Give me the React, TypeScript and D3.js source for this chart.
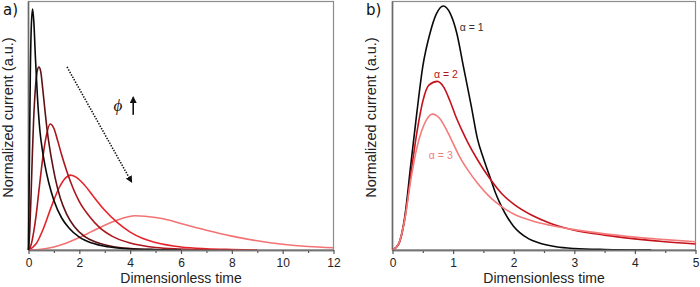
import * as d3 from "d3";
import { useEffect, useRef } from "react";

type Pt = [number, number];

const width = 700;
const height = 287;
const sans = "'Liberation Sans', Arial, sans-serif";

// (a) current transients, phi increasing from black to light red
const phiBlack: Pt[] = [
  [0, 0], [0.03, 0.3], [0.07, 0.7], [0.11, 0.9], [0.16, 0.972], [0.21, 0.92],
  [0.27, 0.78], [0.35, 0.62], [0.45, 0.48], [0.55, 0.4], [0.65, 0.34], [0.8, 0.27],
  [1.0, 0.2], [1.3, 0.13], [1.6, 0.088], [2.0, 0.052], [2.5, 0.028], [3.0, 0.015],
  [3.5, 0.008], [4.0, 0.004], [5.0, 0.001], [6.0, 0],
];
const phiDark: Pt[] = [
  [0, 0], [0.05, 0.08], [0.1, 0.22], [0.15, 0.38], [0.2, 0.52], [0.27, 0.65],
  [0.34, 0.72], [0.41, 0.738], [0.48, 0.72], [0.56, 0.65], [0.65, 0.56], [0.75, 0.47],
  [0.9, 0.37], [1.05, 0.29], [1.25, 0.21], [1.5, 0.145], [1.8, 0.095], [2.2, 0.055],
  [2.7, 0.03], [3.3, 0.014], [4.0, 0.006], [5.0, 0.002], [6.0, 0],
];
const phiMaroon: Pt[] = [
  [0, 0], [0.1, 0.02], [0.2, 0.07], [0.3, 0.14], [0.4, 0.23], [0.5, 0.32],
  [0.6, 0.4], [0.7, 0.46], [0.85, 0.508], [1.0, 0.49], [1.15, 0.44], [1.3, 0.385],
  [1.5, 0.32], [1.75, 0.25], [2.0, 0.195], [2.4, 0.135], [2.8, 0.09], [3.3, 0.055],
  [4.0, 0.028], [5.0, 0.01], [6.0, 0.004], [7.0, 0.001], [8.0, 0],
];
const phiRed: Pt[] = [
  [0, 0], [0.3, 0.025], [0.6, 0.09], [0.9, 0.175], [1.2, 0.25], [1.45, 0.29],
  [1.65, 0.302], [1.9, 0.292], [2.2, 0.262], [2.6, 0.21], [3.0, 0.16], [3.5, 0.11],
  [4.0, 0.072], [4.5, 0.046], [5.0, 0.03], [6.0, 0.012], [7.0, 0.005], [8.0, 0.002],
  [9.0, 0],
];
const phiLight: Pt[] = [
  [0, 0], [0.5, 0.003], [1, 0.012], [1.5, 0.028], [2, 0.05], [2.5, 0.075],
  [3, 0.1], [3.5, 0.121], [4.2, 0.138], [5, 0.131], [5.5, 0.121], [6, 0.107],
  [7, 0.08], [8, 0.056], [9, 0.037], [10, 0.023], [11, 0.014], [12, 0.009],
];

// (b) transients for alpha = 1, 2, 3
const alpha1: Pt[] = [
  [0, 0], [0.1, 0.025], [0.2, 0.13], [0.3, 0.34], [0.4, 0.55], [0.5, 0.74],
  [0.62, 0.875], [0.72, 0.95], [0.84, 0.984], [0.95, 0.955], [1.06, 0.875],
  [1.17, 0.74], [1.3, 0.58], [1.4, 0.45], [1.5, 0.37], [1.6, 0.3], [1.7, 0.23],
  [1.8, 0.175], [1.9, 0.13], [2.0, 0.095], [2.1, 0.07], [2.25, 0.045], [2.4, 0.03],
  [2.7, 0.013], [3.0, 0.006], [3.5, 0.002], [4.27, 0],
];
const alpha2: Pt[] = [
  [0, 0], [0.1, 0.022], [0.2, 0.12], [0.3, 0.3], [0.4, 0.47], [0.5, 0.6],
  [0.6, 0.665], [0.74, 0.68], [0.85, 0.655], [0.95, 0.6], [1.05, 0.535], [1.15, 0.48],
  [1.25, 0.43], [1.4, 0.365], [1.6, 0.29], [1.8, 0.228], [2.0, 0.185], [2.3, 0.14],
  [2.6, 0.108], [3.0, 0.08], [3.5, 0.06], [4.0, 0.045], [4.5, 0.033], [5.0, 0.024],
];
const alpha3: Pt[] = [
  [0, 0], [0.1, 0.025], [0.2, 0.12], [0.3, 0.28], [0.4, 0.41], [0.48, 0.48],
  [0.56, 0.525], [0.66, 0.548], [0.78, 0.53], [0.9, 0.48], [1.0, 0.43], [1.1, 0.38],
  [1.25, 0.32], [1.4, 0.27], [1.6, 0.215], [1.8, 0.175], [2.0, 0.145], [2.3, 0.118],
  [2.6, 0.1], [3.0, 0.082], [3.5, 0.065], [4.0, 0.052], [4.5, 0.042], [5.0, 0.033],
];

const majorA = [0, 2, 4, 6, 8, 10, 12];
const minorA = [1, 3, 5, 7, 9, 11];
const majorB = [0, 1, 2, 3, 4, 5];
const minorB = [0.5, 1.5, 2.5, 3.5, 4.5];

const curvesA = [
  { data: phiLight, color: "#f27373" },
  { data: phiRed, color: "#e6232a" },
  { data: phiMaroon, color: "#ac161d" },
  { data: phiDark, color: "#5e1216" },
  { data: phiBlack, color: "#0a0a0a" },
];
const curvesB = [
  { data: alpha1, color: "#0a0a0a" },
  { data: alpha2, color: "#c4121a" },
  { data: alpha3, color: "#f47b7b" },
];
const alphaLabels = [
  { text: "α = 1", t: 1.11, v: 0.883, color: "#333" },
  { text: "α = 2", t: 0.685, v: 0.694, color: "#b3141b" },
  { text: "α = 3", t: 0.6, v: 0.367, color: "#f08080" },
];

const top = 1.5;
const bottom = 250;
const yScale = d3.scaleLinear().domain([0, 1]).range([bottom, 2]);

function BottomAxis({ x, major, minor }: { x: d3.ScaleLinear<number, number>; major: number[]; minor: number[] }) {
  const ref = useRef<SVGGElement>(null);
  useEffect(() => {
    if (!ref.current) return;
    const g = d3.select(ref.current);
    g.selectAll("*").remove();
    g.append("g").call(d3.axisBottom(x).tickValues(minor).tickSize(3).tickSizeOuter(0).tickFormat(() => ""));
    g.append("g").call(
      d3.axisBottom(x).tickValues(major).tickSize(4).tickSizeOuter(0).tickPadding(4).tickFormat(d3.format("d"))
    );
    g.selectAll("path.domain").attr("stroke", "#757575").attr("stroke-width", 1.6);
    g.selectAll(".tick line").attr("stroke", "#555").attr("stroke-width", 1.2);
    g.selectAll("text").attr("font-family", sans).attr("font-size", 12).attr("fill", "#222");
  }, [x, major, minor]);
  return <g ref={ref} transform={`translate(0,${bottom})`} />;
}

function Panel({
  x, curves, major, minor, label, labelX, yLabelX,
}: {
  x: d3.ScaleLinear<number, number>;
  curves: { data: Pt[]; color: string }[];
  major: number[];
  minor: number[];
  label: string;
  labelX: number;
  yLabelX: number;
}) {
  const line = d3
    .line<Pt>()
    .x((d) => x(d[0]))
    .y((d) => yScale(d[1]))
    .curve(d3.curveMonotoneX);
  const [x0, x1] = x.range();
  return (
    <g>
      <rect x={x0} y={top} width={x1 - x0} height={bottom - top} fill="none" stroke="#8c8c8c" strokeWidth={1.2} />
      <line x1={x0} x2={x0} y1={top} y2={bottom} stroke="#6a6a6a" strokeWidth={1.6} />
      {curves.map((c, i) => (
        <path key={i} d={line(c.data) ?? ""} fill="none" stroke={c.color} strokeWidth={1.6} />
      ))}
      <BottomAxis x={x} major={major} minor={minor} />
      <text x={(x0 + x1) / 2} y={283} textAnchor="middle" fontFamily={sans} fontSize={14} fill="#222">
        Dimensionless time
      </text>
      <text
        transform={`translate(${yLabelX},117.5) rotate(-90)`}
        textAnchor="middle"
        fontFamily={sans}
        fontSize={14.5}
        fill="#222"
      >
        Normalized current (a.u.)
      </text>
      <text x={labelX} y={15} fontFamily="'DejaVu Sans', sans-serif" fontSize={15} fill="#111">
        {label}
      </text>
    </g>
  );
}

export default function App() {
  const xA = d3.scaleLinear().domain([0, 12]).range([28.5, 333.5]);
  const xB = d3.scaleLinear().domain([0, 5]).range([392.5, 695.5]);

  return (
    <div style={{ position: "absolute", left: 0, top: 0 }}>
      <svg width={width} height={height} style={{ display: "block", background: "#fff" }}>
        <defs>
          <marker id="head" viewBox="0 0 10 10" refX="8" refY="5" markerWidth="7" markerHeight="7"
            markerUnits="userSpaceOnUse" orient="auto">
            <path d="M0,0 L10,5 L0,10 z" fill="#111" />
          </marker>
        </defs>

        <Panel x={xA} curves={curvesA} major={majorA} minor={minorA} label="a)" labelX={3} yLabelX={13} />
        <Panel x={xB} curves={curvesB} major={majorB} minor={minorB} label="b)" labelX={366} yLabelX={375.5} />

        {/* direction of increasing phi */}
        <line
          x1={xA(1.516)} y1={yScale(0.738)} x2={xA(4.05)} y2={yScale(0.275)}
          stroke="#111" strokeWidth={1.6} strokeDasharray="1.4 1.4" markerEnd="url(#head)"
        />
        <text x={xA(3.52)} y={yScale(0.56)} textAnchor="middle" fontFamily="'Liberation Serif', serif"
          fontStyle="italic" fontSize={17} fill="#111">
          ϕ
        </text>
        <line
          x1={xA(4.12)} y1={yScale(0.545)} x2={xA(4.12)} y2={yScale(0.615)}
          stroke="#111" strokeWidth={1.6} markerEnd="url(#head)"
        />

        {alphaLabels.map((l) => (
          <text key={l.text} x={xB(l.t)} y={yScale(l.v)} fontFamily={sans} fontSize={10.5} fill={l.color}>
            {l.text}
          </text>
        ))}
      </svg>
    </div>
  );
}
